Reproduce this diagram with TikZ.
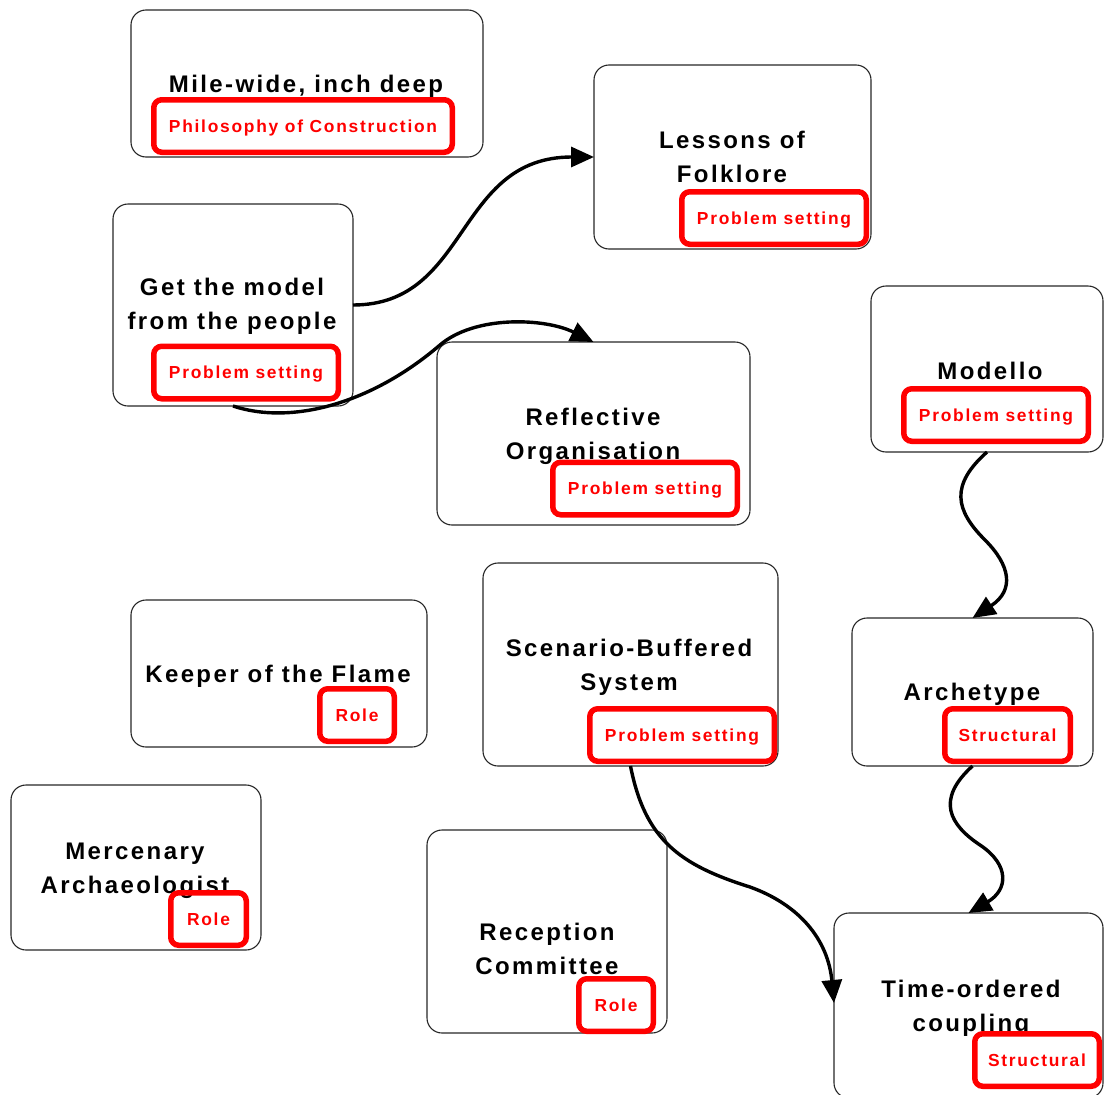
\documentclass[tikz,border=0pt]{standalone}
\usepackage{fontspec}
\setmainfont{Liberation Sans}
\newfontfamily\tfont{Liberation Sans}[LetterSpace=10]
\usetikzlibrary{arrows.meta}
\newcommand\tst{\rule[-6pt]{0pt}{24pt}}
\begin{document}
\begin{tikzpicture}[x=1pt,y=-1pt,
  card/.style={draw=black!85, line width=1.1pt, rounded corners=15pt, inner sep=0pt, outer sep=0pt},
  ttl/.style={font=\tfont\bfseries\fontsize{24}{34}\selectfont, align=center, inner sep=0pt},
  tag/.style={draw=red, line width=5.5pt, rounded corners=8pt, text=red, font=\tfont\bfseries\fontsize{17.4}{20}\selectfont, inner sep=0pt, outer sep=0pt, text height=12.4pt, text depth=0pt, minimum height=52.5pt},
  conn/.style={line width=3.4pt, -{Triangle[length=23pt,width=20pt]}}
]
\useasboundingbox (0,0) rectangle (1104,1095);

% cards
\node[card, minimum width=352pt, minimum height=147pt] (mile) at (307,83.5) {};
\node[card, minimum width=240pt, minimum height=202pt] (gm) at (233,305) {};
\node[card, minimum width=277pt, minimum height=184pt] (lessons) at (732.5,157) {};
\node[card, minimum width=313pt, minimum height=183pt] (refl) at (593.5,433.5) {};
\node[card, minimum width=232pt, minimum height=166pt] (modello) at (987,369) {};
\node[card, minimum width=295pt, minimum height=203pt] (scen) at (630.5,664.5) {};
\node[card, minimum width=241pt, minimum height=148pt] (arch) at (972.5,692) {};
\node[card, minimum width=296pt, minimum height=147pt] (keeper) at (279,673.5) {};
\node[card, minimum width=250pt, minimum height=165pt] (merc) at (136,867.5) {};
\node[card, minimum width=240pt, minimum height=203pt] (recep) at (547,931.5) {};
\node[card, minimum width=269pt, minimum height=185pt] (time) at (968.5,1005.5) {};

% titles
\node[ttl] (mileT) at (306,86) {\tst Mile-wide, inch deep};
\node[ttl] (gmT) at (232,306.5) {\tst Get the model\\\tst from the people};
\node[ttl] (lessonsT) at (732,159.5) {\tst Lessons of\\\tst Folklore};
\node[ttl] (reflT) at (593,436) {\tst Reflective\\\tst Organisation};
\node[ttl] (modelloT) at (990,373) {\tst Modello};
\node[ttl] (scenT) at (629,667) {\tst Scenario-Buffered\\\tst System};
\node[ttl] (archT) at (972,694) {\tst Archetype};
\node[ttl] (keeperT) at (278,676) {\tst Keeper of the Flame};
\node[ttl] (mercT) at (135,870) {\tst Mercenary\\\tst Archaeologist};
\node[ttl] (recepT) at (547,951.5) {\tst Reception\\\tst Committee};
\node[ttl] (timeT) at (971,1008.5) {\tst Time-ordered\\\tst coupling};

% tags
\node[tag, minimum width=298.5pt] (mileL) at (303,126) {Philosophy of Construction};
\node[tag, minimum width=184.5pt] (gmL) at (246,372.5) {Problem setting};
\node[tag, minimum width=184.5pt] (lessonsL) at (774,218) {Problem setting};
\node[tag, minimum width=184.5pt] (reflL) at (645,488.5) {Problem setting};
\node[tag, minimum width=184.5pt] (modelloL) at (996,415) {Problem setting};
\node[tag, minimum width=184.5pt] (scenL) at (682,735) {Problem setting};
\node[tag, minimum width=125.5pt] (archL) at (1007.5,735) {Structural};
\node[tag, minimum width=74.5pt] (keeperL) at (357,715) {Role};
\node[tag, minimum width=75.5pt] (mercL) at (208.5,919) {Role};
\node[tag, minimum width=74.5pt] (recepL) at (616,1005) {Role};
\node[tag, minimum width=124.5pt] (timeL) at (1037,1060) {Structural};

% connectors
\draw[conn] (gm.east) .. controls (470,305) and (455,157) .. (lessons.west);
\draw[conn] (gm.south) .. controls (290,425) and (370,405) .. (440,345) .. controls (475,315) and (545,318) .. (refl.north);
\draw[conn] (modello.south) .. controls (950,485) and (955,510) .. (985,540) .. controls (1010,565) and (1015,590) .. (arch.north);
\draw[conn] (arch.south) .. controls (935,800) and (950,825) .. (980,845) .. controls (1010,865) and (1008,890) .. (time.north);
\draw[conn] (scen.south) .. controls (645,840) and (680,865) .. (750,887) .. controls (800,905) and (828,940) .. ([yshift=2.5pt]time.west);
\end{tikzpicture}
\end{document}
